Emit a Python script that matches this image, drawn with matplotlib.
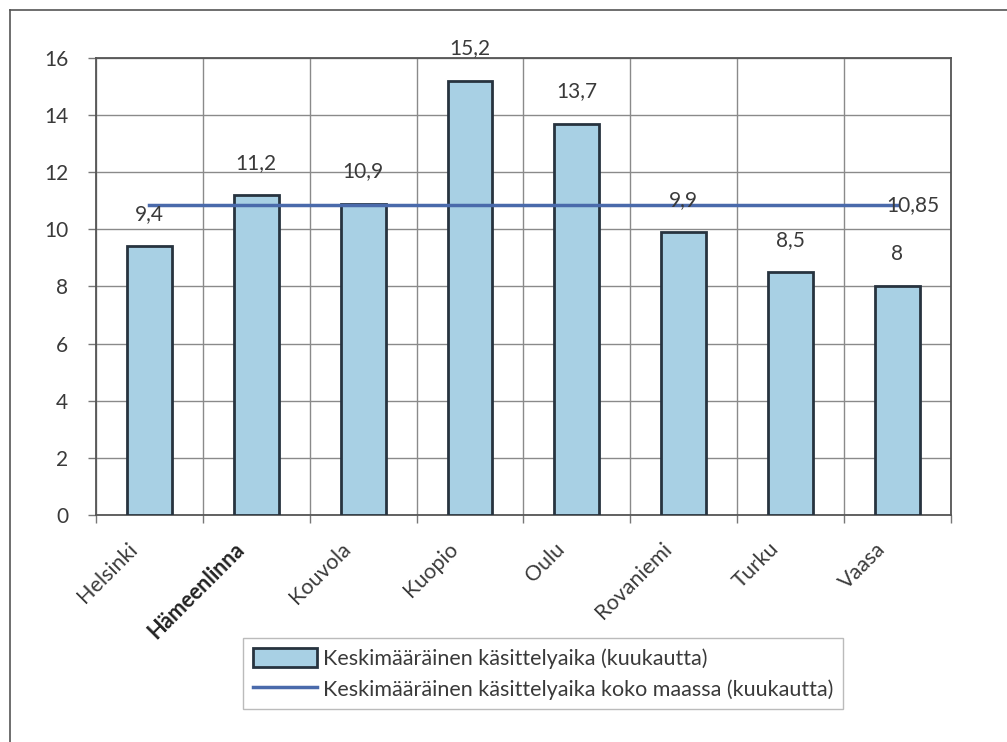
import matplotlib
matplotlib.use("Agg")
import matplotlib.pyplot as plt
from matplotlib.lines import Line2D
from matplotlib.transforms import ScaledTranslation

cities = ["Helsinki", "Hämeenlinna", "Kouvola", "Kuopio", "Oulu", "Rovaniemi", "Turku", "Vaasa"]
values = [9.4, 11.2, 10.9, 15.2, 13.7, 9.9, 8.5, 8]
national_avg = 10.85
yticks = [0, 2, 4, 6, 8, 10, 12, 14, 16]
bar_label = "Keskimääräinen käsittelyaika (kuukautta)"
line_label = "Keskimääräinen käsittelyaika koko maassa (kuukautta)"

plt.rcParams['font.family'] = ['Lato', 'DejaVu Sans']
text_color = "#3a3a3a"

fig = plt.figure(figsize=(10.07, 7.42), dpi=100)
ax = fig.add_axes([0.0953, 0.3059, 0.849, 0.616])

x = list(range(len(cities)))
ax.bar(x, values, width=0.42, color="#a8d0e4", edgecolor="#27333f", linewidth=2, zorder=3)
ax.plot([x[0], x[-1]], [national_avg] * 2, color="#4a6aab", linewidth=2.5, zorder=4)

def fmt(v):
    return ("%g" % v).replace(".", ",")

for xi, v in zip(x, values):
    ax.annotate(fmt(v), (xi, v), xytext=(0, 16), textcoords="offset points",
                ha="center", va="bottom", fontsize=15, color=text_color, zorder=5)
ax.annotate(fmt(national_avg), (x[-1], national_avg), xytext=(-8, 0), textcoords="offset points",
            ha="left", va="center", fontsize=15, color=text_color, zorder=5)

ax.set_xlim(-0.5, len(cities) - 0.5)
ax.set_ylim(0, 16)
ax.set_yticks(yticks)
ax.set_yticklabels([str(t) for t in yticks], fontsize=15, color=text_color)
ax.set_xticks(x)
ax.set_xticklabels(cities, rotation=45, ha="right", va="top", rotation_mode="anchor",
                   fontsize=15.5, color=text_color)
ax.tick_params(axis="x", which="major", length=0, pad=17)
ax.set_xticks([i - 0.5 for i in range(len(cities) + 1)], minor=True)
ax.tick_params(axis="x", which="minor", length=6, color="#777777", width=1)
ax.tick_params(axis="y", length=6, color="#777777", width=1, pad=14)
shift = ScaledTranslation(-16 / 72, 0, fig.dpi_scale_trans)
for lbl in ax.get_xticklabels():
    lbl.set_transform(lbl.get_transform() + shift)
    if lbl.get_text() == "Hämeenlinna":
        lbl.set_fontweight("bold")
        lbl.set_color("#222222")

ax.grid(True, axis="y", color="#8a8a8a", linewidth=1, zorder=0)
ax.grid(True, axis="x", which="minor", color="#8a8a8a", linewidth=1, zorder=0)
for sp in ax.spines.values():
    sp.set_color("#555555")
    sp.set_linewidth(1.3)

handles = [plt.Rectangle((0, 0), 1, 1, facecolor="#a8d0e4", edgecolor="#27333f", linewidth=2),
           Line2D([0], [0], color="#4a6aab", linewidth=2.5)]
leg = fig.legend(handles, [bar_label, line_label], loc="center",
                 bbox_to_anchor=(0.539, 0.092), bbox_transform=fig.transFigure,
                 fontsize=15.5, frameon=True, fancybox=False, handlelength=3.0,
                 handleheight=1.0, handletextpad=0.25, borderpad=0.45, labelspacing=0.45)
leg.get_frame().set_edgecolor("#aaaaaa")
leg.get_frame().set_linewidth(1)
for t in leg.get_texts():
    t.set_color(text_color)

# outer frame (left and top edges visible)
fig.add_artist(Line2D([0.0099, 0.0099], [0, 1 - 10 / 742], transform=fig.transFigure, color="#555555", linewidth=1.2))
fig.add_artist(Line2D([0.0099, 1], [1 - 10 / 742, 1 - 10 / 742], transform=fig.transFigure, color="#555555", linewidth=1.2))

fig.savefig("out.png", dpi=100)
